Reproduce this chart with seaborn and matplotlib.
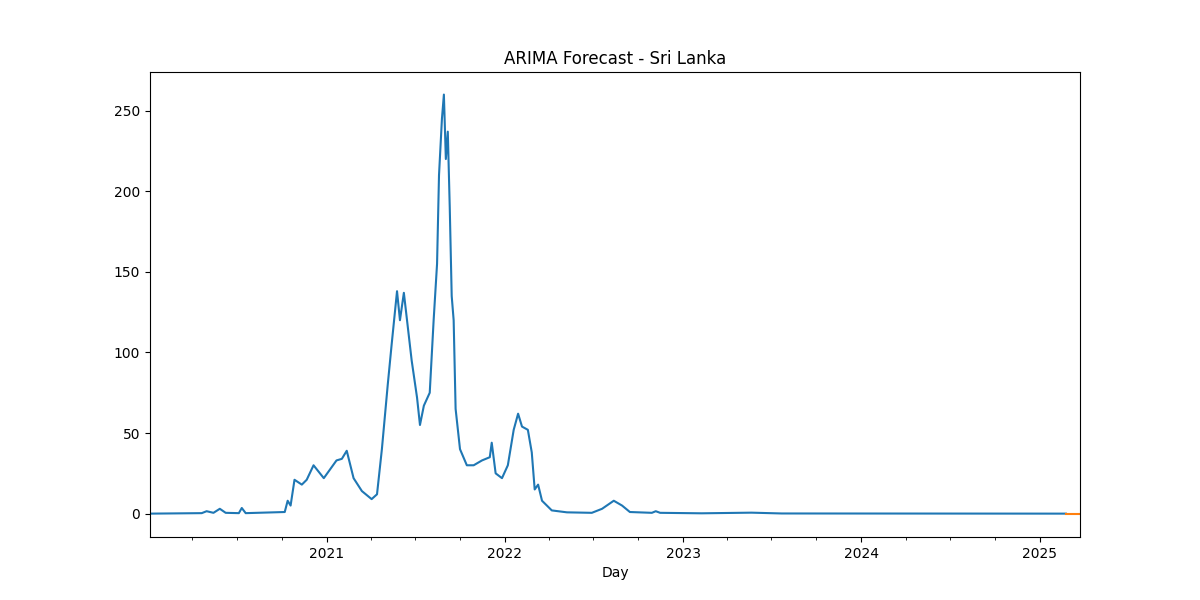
import pandas as pd
import matplotlib
matplotlib.use("Agg")
import matplotlib.pyplot as plt
import matplotlib.dates as mdates
import seaborn as sns

hist_dates = [
    "2020-01-05", "2020-04-20", "2020-04-30", "2020-05-14", "2020-05-27", "2020-06-08",
    "2020-07-05", "2020-07-11", "2020-07-19", "2020-10-07", "2020-10-13", "2020-10-19",
    "2020-10-27", "2020-11-11", "2020-11-21", "2020-12-05", "2020-12-26", "2021-01-21",
    "2021-02-01", "2021-02-11", "2021-02-25", "2021-03-14", "2021-04-03", "2021-04-14",
    "2021-04-24", "2021-05-06", "2021-05-14", "2021-05-25", "2021-05-31", "2021-06-08",
    "2021-06-24", "2021-07-05", "2021-07-11", "2021-07-19", "2021-07-31", "2021-08-08",
    "2021-08-15", "2021-08-19", "2021-08-25", "2021-08-29", "2021-09-02", "2021-09-06",
    "2021-09-10", "2021-09-14", "2021-09-18", "2021-09-22", "2021-10-01", "2021-10-15",
    "2021-10-29", "2021-11-15", "2021-12-01", "2021-12-05", "2021-12-13", "2021-12-26",
    "2022-01-07", "2022-01-19", "2022-01-28", "2022-02-05", "2022-02-17", "2022-02-25",
    "2022-03-03", "2022-03-10", "2022-03-18", "2022-04-07", "2022-05-08", "2022-06-28",
    "2022-07-19", "2022-08-12", "2022-08-29", "2022-09-14", "2022-10-29", "2022-11-06",
    "2022-11-15", "2023-02-08", "2023-05-21", "2023-07-22", "2025-02-23",
]
hist_values = [
    0, 0.3, 1.5, 0.5, 3, 0.5,
    0.3, 3.5, 0.3, 1, 8, 5,
    21, 18, 21, 30, 22, 33,
    34, 39, 22, 14, 9, 12,
    40, 80, 105, 138, 120, 137,
    95, 72, 55, 67, 75, 120,
    155, 210, 245, 260, 220, 237,
    190, 135, 120, 65, 40, 30,
    30, 33, 35, 44, 25, 22,
    30, 52, 62, 54, 52, 38,
    15, 18, 8, 2, 0.8, 0.5,
    3, 8, 5, 1, 0.5, 1.5,
    0.5, 0.2, 0.6, 0.1, 0,
]

# ARIMA forecast
fc_dates = ["2025-02-23", "2025-03-24"]
fc_values = [0, 0]

hist = pd.DataFrame({"Day": pd.to_datetime(hist_dates), "value": hist_values})
fc = pd.DataFrame({"Day": pd.to_datetime(fc_dates), "value": fc_values})

fig, ax = plt.subplots(figsize=(12, 6), dpi=100)
fig.subplots_adjust(left=0.125, right=0.9, top=0.88, bottom=0.105)
sns.lineplot(data=hist, x="Day", y="value", color="#1f77b4", linewidth=1.5, ax=ax)
sns.lineplot(data=fc, x="Day", y="value", color="#ff7f0e", linewidth=1.5, ax=ax)

ax.set_xlim(pd.Timestamp("2020-01-05"), pd.Timestamp("2025-03-24"))
ax.set_ylim(-14.5, 274)
ax.xaxis.set_major_locator(mdates.YearLocator())
ax.xaxis.set_major_formatter(mdates.DateFormatter("%Y"))
ax.xaxis.set_minor_locator(mdates.MonthLocator(bymonth=[1, 4, 7, 10]))
ax.set_title("ARIMA Forecast - Sri Lanka")
ax.set_xlabel("Day")
ax.set_ylabel("")

fig.savefig("out.png", dpi=100)
